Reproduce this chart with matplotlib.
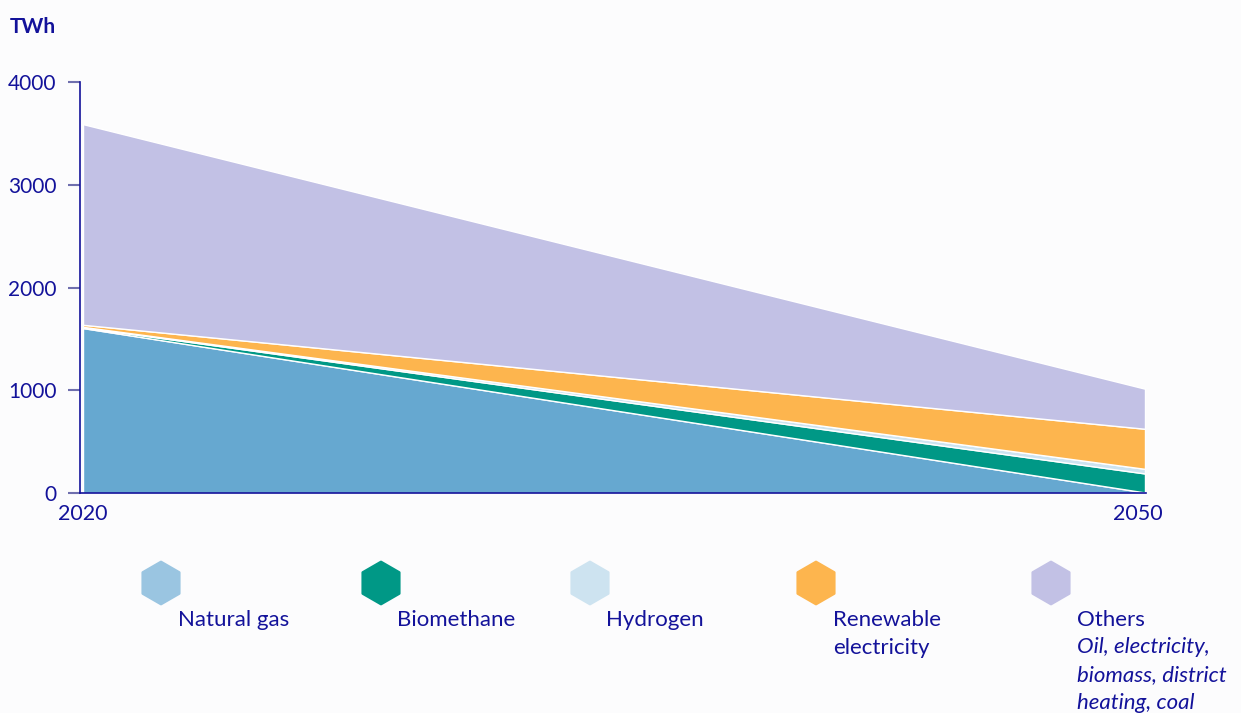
import matplotlib.pyplot as plt
from matplotlib.patches import RegularPolygon
from matplotlib.transforms import ScaledTranslation

plt.rcParams['font.family'] = ['Lato', 'DejaVu Sans']

NAVY = '#13129a'

years = [2020, 2050]
natural_gas = [1605, 5]
biomethane = [8, 185]
hydrogen = [4, 45]
renewable_electricity = [20, 390]
others = [1953, 390]

series_names = ['Natural gas', 'Biomethane', 'Hydrogen', 'Renewable\nelectricity', 'Others']
area_colors = ['#66a8d0', '#009886', '#cde3f0', '#fdb54e', '#c2c1e5']
legend_colors = ['#9ac5e1', '#009886', '#cde3f0', '#fdb54e', '#c2c1e5']
yticks = [0, 1000, 2000, 3000, 4000]

fig = plt.figure(figsize=(12.41, 7.13), dpi=100)
fig.patch.set_facecolor('#fcfcfd')

W, H = 1241, 713
ax = fig.add_axes([80 / W, 1 - 493 / H, (1146 - 80) / W, (493 - 82) / H])
ax.set_facecolor('#fcfcfd')

ax.stackplot(years, natural_gas, biomethane, hydrogen, renewable_electricity, others,
             colors=area_colors, edgecolor='white', linewidth=1.0)

ax.set_ylim(0, 4000)
ax.set_xlim(2020 - 3 / 1062 * 30, 2050 + 1 / 1062 * 30)
ax.set_yticks(yticks)
ax.set_yticklabels([str(v) for v in yticks])
ax.set_xticks([2020, 2050])
ax.set_xticklabels(['2020', '2050'])

for side in ['top', 'right']:
    ax.spines[side].set_visible(False)
ax.spines['left'].set_color(NAVY)
ax.spines['bottom'].set_color(NAVY)
ax.spines['left'].set_linewidth(1.2)
ax.spines['bottom'].set_linewidth(1.2)

ax.tick_params(axis='y', colors='#6f6fae', length=9, width=1.5, pad=8,
               labelsize=15, labelcolor=NAVY)
ax.tick_params(axis='x', length=0, pad=8, labelsize=15.5, labelcolor=NAVY)

# nudge the last year label a little to the left
last = ax.get_xticklabels()[-1]
last.set_transform(last.get_transform() + ScaledTranslation(-7 / 100, 0, fig.dpi_scale_trans))

fig.text(10 / W, 1 - 27 / H, 'TWh', fontsize=15, fontweight='bold',
         color=NAVY, va='center', ha='left')

# legend drawn in pixel space underneath the chart
lg = fig.add_axes([0, 0, 1, 1], facecolor='none')
lg.set_xlim(0, W)
lg.set_ylim(H, 0)
lg.axis('off')

hex_x = [161, 381, 590, 816, 1051]
text_x = [178, 397, 606, 833, 1077]
for hx, tx, name, col in zip(hex_x, text_x, series_names, legend_colors):
    lg.add_patch(RegularPolygon((hx, 583), numVertices=6, radius=21,
                                facecolor=col, edgecolor=col, linewidth=2,
                                joinstyle='round'))
    lg.text(tx, 610, name, fontsize=16, color=NAVY, va='top', ha='left',
            linespacing=1.5)

lg.text(1077, 637, 'Oil, electricity,\nbiomass, district\nheating, coal',
        fontsize=16, color=NAVY, va='top', ha='left', style='italic',
        linespacing=1.5)

fig.savefig('out.png', dpi=100, facecolor=fig.get_facecolor())
